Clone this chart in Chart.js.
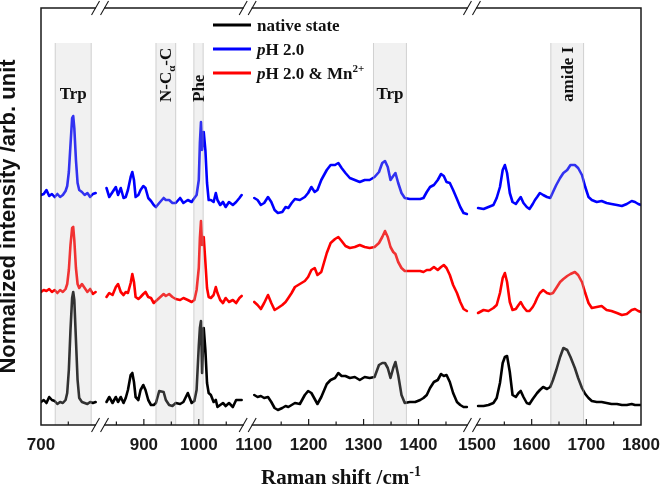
<!DOCTYPE html>
<html>
<head>
<meta charset="utf-8">
<title>Raman spectra</title>
<script src="https://cdn.jsdelivr.net/npm/chart.js@4.4.1/dist/chart.umd.min.js"></script>
<style>
  html, body { margin: 0; padding: 0; background: #fff; }
  #chart { display: block; }
</style>
</head>
<body>
<canvas id="chart" width="661" height="486"></canvas>
<script>
// Raman shift in cm-1. The rows at 813, 1089 and 1496 sit in the axis breaks (null = no line)
const ramanShift = [
  700, 705, 710, 715, 720, 725, 730, 735, 740, 745, 748, 751, 754, 757, 759, 761, 764, 767, 770, 775, 780, 785, 790, 795, 800,
  813,
  832, 837, 843, 849, 853, 858, 863, 867, 871, 876, 879, 882, 885, 890, 894, 899, 903, 908, 913, 918, 922, 928, 936, 940, 946,
  952, 958, 966, 972, 980, 987, 992, 996, 1000, 1002, 1004, 1006, 1009, 1012, 1015, 1018, 1022, 1027, 1031, 1034, 1039, 1044,
  1049, 1055, 1062, 1068, 1074, 1078,
  1089,
  1101, 1107, 1113, 1119, 1126, 1132, 1138, 1144, 1152, 1158, 1163, 1169, 1175, 1184, 1193, 1199, 1205, 1211, 1216, 1223,
  1233, 1240, 1248, 1254, 1260, 1267, 1275, 1284, 1293, 1302, 1311, 1320, 1328, 1334, 1339, 1344, 1349, 1354, 1358, 1363,
  1369, 1375, 1384, 1394, 1403, 1409, 1415, 1421, 1428, 1435, 1441, 1446, 1451, 1457, 1463, 1470, 1476, 1482, 1488,
  1496,
  1502, 1512, 1521, 1530, 1536, 1542, 1547, 1551, 1555, 1560, 1565, 1571, 1576, 1580, 1585, 1591, 1596, 1602, 1606, 1610,
  1615, 1621, 1628, 1634, 1639, 1645, 1652, 1658, 1665, 1671, 1679, 1685, 1692, 1698, 1704, 1710, 1719, 1728, 1737, 1746,
  1756, 1765, 1774, 1783, 1789, 1795, 1800
];

// stacked intensities (arb. unit), already offset as plotted
const nativeState = [
  23, 25, 22, 28, 25, 24, 21, 23, 22, 25, 32, 55, 95, 127, 133, 125, 85, 45, 27, 23, 22, 21, 23, 22, 23,
  null,
  23, 28, 22, 28, 23, 28, 22, 27, 35, 50, 52, 43, 28, 25, 35, 40, 35, 25, 20, 20, 22, 34, 33, 25, 20,
  19, 22, 21, 23, 32, 22, 24, 35, 79, 97, 104, 52, 97, 75, 42, 32, 30, 23, 25, 18, 20, 22,
  19, 22, 18, 25, 25, 25,
  null,
  30, 28, 29, 27, 28, 23, 17, 15, 17, 19, 18, 20, 22, 21, 30, 34, 32, 26, 21, 28,
  41, 45, 47, 52, 49, 49, 47, 48, 45, 48, 47, 48, 60, 62, 62, 57, 47, 57, 63, 50,
  30, 22, 23, 23, 25, 27, 30, 37, 43, 45, 51, 49, 50, 43, 32, 23, 20, 18, 18,
  null,
  19, 19, 20, 22, 27, 42, 62, 68, 69, 53, 30, 28, 32, 34, 28, 22, 21, 26, 29, 32,
  35, 38, 36, 38, 45, 55, 68, 77, 75, 68, 57, 47, 37, 31, 27, 24, 23, 23, 22, 21,
  21, 20, 20, 21, 20, 20, 20
];

const ph2 = [
  230, 231, 235, 229, 231, 228, 231, 228, 230, 234, 239, 253, 280, 307, 309, 297, 265, 242, 235, 233, 230, 232, 228, 231, 232,
  null,
  237, 228, 233, 238, 230, 237, 227, 228, 235, 248, 253, 245, 228, 230, 235, 239, 237, 227, 224, 220, 218, 222, 227, 225, 225,
  222, 222, 227, 222, 225, 223, 227, 230, 245, 282, 303, 275, 293, 275, 242, 225, 225, 223, 232, 225, 220, 223,
  218, 223, 220, 223, 227, 230,
  null,
  227, 225, 220, 222, 228, 223, 215, 212, 213, 218, 217, 222, 226, 225, 228, 232, 238, 233, 235, 245,
  255, 260, 260, 262, 257, 252, 247, 245, 243, 245, 245, 248, 253, 262, 264, 258, 245, 249, 252, 242,
  232, 227, 226, 226, 226, 227, 233, 238, 240, 245, 251, 249, 243, 242, 235, 226, 218, 212, 211,
  null,
  217, 216, 218, 220, 227, 238, 255, 260, 252, 232, 223, 221, 225, 228, 222, 218, 216, 221, 225, 228,
  232, 230, 228, 227, 233, 240, 247, 252, 255, 260, 260, 257, 250, 238, 228, 225, 223, 224, 222, 221,
  220, 219, 221, 224, 223, 221, 220
];

const ph2Mn = [
  133, 135, 134, 136, 133, 135, 132, 135, 133, 136, 141, 155, 180, 197, 198, 185, 157, 141, 137, 141, 137, 133, 136, 131, 133,
  null,
  128, 132, 130, 138, 141, 133, 130, 133, 132, 142, 151, 143, 128, 126, 128, 131, 133, 128, 127, 122, 124, 127, 131, 129, 131,
  128, 126, 125, 127, 125, 123, 125, 135, 157, 187, 204, 180, 188, 163, 137, 128, 127, 130, 138, 132, 125, 122,
  127, 123, 125, 122, 127, 129,
  null,
  123, 120, 116, 122, 130, 122, 115, 117, 120, 123, 127, 132, 138, 141, 144, 148, 155, 157, 150, 153,
  172, 182, 186, 188, 184, 179, 177, 178, 180, 178, 177, 178, 182, 188, 194, 188, 178, 173, 171, 163,
  157, 154, 154, 154, 154, 153, 155, 155, 158, 155, 158, 160, 157, 150, 140, 132, 123, 116, 114,
  null,
  112, 115, 114, 117, 120, 132, 147, 152, 143, 123, 115, 116, 120, 123, 118, 114, 114, 118, 122, 127,
  132, 135, 132, 131, 132, 137, 143, 146, 149, 151, 153, 150, 143, 132, 122, 117, 118, 119, 115, 114,
  112, 110, 111, 115, 116, 114, 113
];

const seriesNames = ['native state', 'pH 2.0', 'pH 2.0 & Mn2+'];

const tickValues = [700, 750, 850, 900, 950, 1000, 1050, 1100, 1150, 1200, 1250, 1300, 1350, 1400, 1450,
  1500, 1550, 1600, 1650, 1700, 1750, 1800];
const tickLabels = [700, 900, 1000, 1100, 1200, 1300, 1400, 1500, 1600, 1700, 1800];
const axisBreaks = [813, 1089, 1496];

// shaded assignment bands, [from, to] in cm-1
const bandRanges = [[726, 792], [922, 958], [991, 1008], [1318, 1378], [1635, 1695]];
const bandNames = ['Trp', 'N-Cα-C', 'Phe', 'Trp', 'amide I'];

const SERIF = '"Liberation Serif", "Times New Roman", serif';
const SANS = '"Liberation Sans", Arial, sans-serif';

// axis with breaks: [value, fraction of the axis width]
const X_ANCHORS = [[700, 0], [800, 0.091], [832, 0.10917], [1495, 0.71617], [1500, 0.72667], [1800, 1]];

class BrokenAxis extends Chart.LinearScale {
  getPixelForValue(value) {
    if (value === null || value === undefined || isNaN(value)) return NaN;
    const a = X_ANCHORS;
    let i = 1;
    while (i < a.length - 1 && value > a[i][0]) i++;
    const [v0, f0] = a[i - 1];
    const [v1, f1] = a[i];
    return this.getPixelForDecimal(f0 + (value - v0) / (v1 - v0) * (f1 - f0));
  }
  getValueForPixel(pixel) {
    const d = this.getDecimalForPixel(pixel);
    const a = X_ANCHORS;
    let i = 1;
    while (i < a.length - 1 && d > a[i][1]) i++;
    const [v0, f0] = a[i - 1];
    const [v1, f1] = a[i];
    return v0 + (d - f0) / (f1 - f0) * (v1 - v0);
  }
}
BrokenAxis.id = 'brokenLinear';
BrokenAxis.defaults = {};
Chart.register(BrokenAxis);

function pointsOf(values) {
  return ramanShift.map((x, i) => ({ x: x, y: values[i] }));
}

// text made of pieces (italic p, sub/superscripts)
function richWidth(ctx, parts, size) {
  let w = 0;
  parts.forEach(p => {
    const s = (p.sup || p.sub) ? Math.round(size * 0.65) : size;
    ctx.font = (p.italic ? 'italic ' : '') + 'bold ' + s + 'px ' + SERIF;
    w += ctx.measureText(p.text).width;
  });
  return w;
}
function drawRich(ctx, parts, x, y, size) {
  parts.forEach(p => {
    const s = (p.sup || p.sub) ? Math.round(size * 0.65) : size;
    ctx.font = (p.italic ? 'italic ' : '') + 'bold ' + s + 'px ' + SERIF;
    const dy = p.sup ? -size * 0.4 : (p.sub ? size * 0.22 : 0);
    ctx.fillText(p.text, x, y + dy);
    x += ctx.measureText(p.text).width;
  });
}

const legendParts = [
  [{ text: 'native state' }],
  [{ text: 'p', italic: true }, { text: 'H 2.0' }],
  [{ text: 'p', italic: true }, { text: 'H 2.0 & Mn' }, { text: '2+', sup: true }]
];
const bandParts = {
  'N-Cα-C': [{ text: 'N-C' }, { text: 'α', sub: true }, { text: '-C' }]
};

const decor = {
  id: 'decor',
  afterDatasetsDraw(chart) {
    const { ctx, chartArea: area, scales: { x, y } } = chart;
    ctx.save();

    // grey bands over the spectra
    const bandTop = area.top + 35;
    bandRanges.forEach(([a, b]) => {
      const l = x.getPixelForValue(a), r = x.getPixelForValue(b);
      ctx.fillStyle = 'rgba(200,200,200,0.25)';
      ctx.fillRect(l, bandTop, r - l, area.bottom - bandTop);
      ctx.strokeStyle = 'rgba(160,160,160,0.45)';
      ctx.lineWidth = 1;
      ctx.beginPath();
      ctx.moveTo(l, bandTop); ctx.lineTo(l, area.bottom);
      ctx.moveTo(r, bandTop); ctx.lineTo(r, area.bottom);
      ctx.stroke();
    });

    // band labels
    ctx.fillStyle = '#111';
    ctx.textBaseline = 'alphabetic';
    ctx.textAlign = 'left';
    bandRanges.forEach(([a, b], i) => {
      const cx = (x.getPixelForValue(a) + x.getPixelForValue(b)) / 2;
      const name = bandNames[i];
      const parts = bandParts[name] || [{ text: name }];
      if (name === 'Trp') {
        const w = richWidth(ctx, parts, 17);
        drawRich(ctx, parts, cx - w / 2, area.top + 91, 17);
      } else {
        ctx.save();
        ctx.translate(cx + 5.5, area.top + 94);
        ctx.rotate(-Math.PI / 2);
        drawRich(ctx, parts, 0, 0, 17);
        ctx.restore();
      }
    });

    // frame
    ctx.strokeStyle = '#1a1a1a';
    ctx.lineWidth = 1.5;
    ctx.strokeRect(area.left, area.top, area.right - area.left, area.bottom - area.top);

    // inward tick marks on the bottom axis
    ctx.lineWidth = 1.2;
    ctx.beginPath();
    tickValues.forEach(v => {
      if (v === 700 || v === 1800) return;
      if (axisBreaks.some(b => Math.abs(b - v) < 15)) return;
      const px = x.getPixelForValue(v);
      const len = tickLabels.includes(v) ? 6 : 3.5;
      ctx.moveTo(px, area.bottom);
      ctx.lineTo(px, area.bottom - len);
    });
    ctx.stroke();

    // break marks on top and bottom axes
    axisBreaks.forEach(v => {
      const bx = x.getPixelForValue(v);
      [area.top, area.bottom].forEach(by => {
        ctx.fillStyle = '#fff';
        ctx.fillRect(bx - 4, by - 2, 8, 4);
        ctx.strokeStyle = '#1a1a1a';
        ctx.lineWidth = 1.1;
        ctx.beginPath();
        [-4.5, 4.5].forEach(dx => {
          ctx.moveTo(bx + dx - 4, by + 7);
          ctx.lineTo(bx + dx + 4, by - 7);
        });
        ctx.stroke();
      });
    });

    // legend
    chart.data.datasets.forEach((ds, i) => {
      const ly = area.top + 17 + i * 24;
      ctx.strokeStyle = ds.borderColor;
      ctx.lineWidth = 3;
      ctx.beginPath();
      ctx.moveTo(213, ly);
      ctx.lineTo(251, ly);
      ctx.stroke();
      ctx.fillStyle = '#111';
      drawRich(ctx, legendParts[i], 257, ly + 6, 17);
    });

    // axis titles
    const xt = [{ text: 'Raman shift /cm' }, { text: '-1', sup: true }];
    const xw = richWidth(ctx, xt, 21);
    drawRich(ctx, xt, (area.left + area.right) / 2 - xw / 2, 484, 21);

    ctx.save();
    ctx.translate(15, (area.top + area.bottom) / 2);
    ctx.rotate(-Math.PI / 2);
    ctx.textAlign = 'center';
    ctx.font = 'bold 22px ' + SANS;
    ctx.fillText('Normalized intensity /arb. unit', 0, 0);
    ctx.restore();

    ctx.restore();
  }
};

const lineStyle = { pointRadius: 0, borderWidth: 2.6, tension: 0, borderJoinStyle: 'round', borderCapStyle: 'round', fill: false };

new Chart(document.getElementById('chart'), {
  type: 'line',
  data: {
    datasets: [
      Object.assign({ label: seriesNames[0], data: pointsOf(nativeState), borderColor: '#000000' }, lineStyle),
      Object.assign({ label: seriesNames[1], data: pointsOf(ph2), borderColor: '#0000ff' }, lineStyle),
      Object.assign({ label: seriesNames[2], data: pointsOf(ph2Mn), borderColor: '#ff0000' }, lineStyle)
    ]
  },
  options: {
    responsive: false,
    animation: false,
    devicePixelRatio: 1,
    layout: { padding: { top: 8, right: 20, left: 0, bottom: 0 } },
    plugins: { legend: { display: false }, tooltip: { enabled: false } },
    scales: {
      x: {
        type: 'brokenLinear',
        min: 700,
        max: 1800,
        afterFit(scale) {
          scale.height = 61;
          scale.paddingLeft = 0;
          scale.paddingRight = 0;
        },
        afterBuildTicks(scale) { scale.ticks = tickValues.map(v => ({ value: v })); },
        grid: { display: false, drawTicks: false },
        border: { display: false },
        ticks: {
          autoSkip: false,
          maxRotation: 0,
          padding: 10,
          color: '#1a1a1a',
          font: { family: SANS, size: 17, weight: 'bold' },
          callback: (value) => tickLabels.includes(value) ? String(value) : ''
        }
      },
      y: {
        min: 0,
        max: 417,
        afterFit(scale) { scale.width = 41; },
        grid: { display: false, drawTicks: false },
        border: { display: false },
        ticks: { display: false }
      }
    }
  },
  plugins: [decor]
});
</script>
</body>
</html>
